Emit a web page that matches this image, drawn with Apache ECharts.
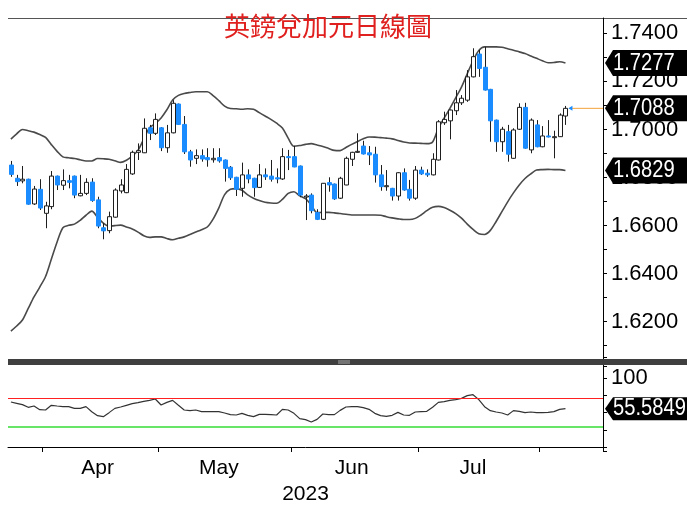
<!DOCTYPE html>
<html><head><meta charset="utf-8">
<script src="https://cdn.jsdelivr.net/npm/echarts@6/dist/echarts.min.js"></script>
<style>html,body{margin:0;padding:0;background:#fff}#c{width:687px;height:507px}</style>
</head><body><div id="c"></div>
<script>
const dates = [
'2023-03-24','2023-03-27','2023-03-28','2023-03-29','2023-03-30','2023-03-31',
'2023-04-03','2023-04-04','2023-04-05','2023-04-06','2023-04-07','2023-04-10','2023-04-11','2023-04-12','2023-04-13','2023-04-14',
'2023-04-17','2023-04-18','2023-04-19','2023-04-20','2023-04-21','2023-04-24','2023-04-25','2023-04-26','2023-04-27','2023-04-28',
'2023-05-01','2023-05-02','2023-05-03','2023-05-04','2023-05-05','2023-05-08','2023-05-09','2023-05-10','2023-05-11','2023-05-12',
'2023-05-15','2023-05-16','2023-05-17','2023-05-18','2023-05-19','2023-05-22','2023-05-23','2023-05-24','2023-05-25','2023-05-26',
'2023-05-29','2023-05-30','2023-05-31',
'2023-06-01','2023-06-02','2023-06-05','2023-06-06','2023-06-07','2023-06-08','2023-06-09','2023-06-12','2023-06-13','2023-06-14',
'2023-06-15','2023-06-16','2023-06-19','2023-06-20','2023-06-21','2023-06-22','2023-06-23','2023-06-26','2023-06-27','2023-06-28',
'2023-06-29','2023-06-30',
'2023-07-03','2023-07-04','2023-07-05','2023-07-06','2023-07-07','2023-07-10','2023-07-11','2023-07-12','2023-07-13','2023-07-14',
'2023-07-17','2023-07-18','2023-07-19','2023-07-20','2023-07-21','2023-07-24','2023-07-25','2023-07-26','2023-07-27','2023-07-28',
'2023-07-31',
'2023-08-01','2023-08-02','2023-08-03','2023-08-04','2023-08-07',
'2023-08-08','2023-08-09','2023-08-10','2023-08-11','2023-08-14','2023-08-15'
];
// [open, close, low, high]
const candles = [
[1.6852,1.6813,1.6803,1.6869],[1.6797,1.6783,1.6765,1.6811],[1.6786,1.6793,1.6776,1.6848],[1.6793,1.6689,1.6687,1.6795],
[1.6690,1.6752,1.6686,1.6765],[1.6751,1.6673,1.6665,1.6793],[1.6651,1.6682,1.6589,1.6699],[1.6679,1.6806,1.6668,1.6827],
[1.6806,1.6769,1.6748,1.6808],[1.6768,1.6787,1.6748,1.6834],[1.6787,1.6780,1.6755,1.6811],[1.6806,1.6727,1.6714,1.6808],
[1.6724,1.6734,1.6722,1.6811],[1.6734,1.6780,1.6727,1.6797],[1.6781,1.6704,1.6699,1.6797],[1.6707,1.6598,1.6589,1.6720],
[1.6591,1.6578,1.6543,1.6610],[1.6579,1.6637,1.6568,1.6658],[1.6635,1.6748,1.6633,1.6755],[1.6744,1.6769,1.6734,1.6793],
[1.6737,1.6834,1.6735,1.6856],[1.6815,1.6905,1.6811,1.6912],[1.6905,1.6912,1.6873,1.6942],[1.6903,1.7005,1.6902,1.7046],
[1.7007,1.6984,1.6956,1.7019],[1.6984,1.7042,1.6977,1.7067],[1.7007,1.6924,1.6910,1.7010],[1.6924,1.6986,1.6903,1.7019],
[1.6986,1.7109,1.6984,1.7122],[1.7106,1.7021,1.7019,1.7108],[1.7021,1.6907,1.6898,1.7056],[1.6907,1.6873,1.6845,1.6915],
[1.6880,1.6891,1.6856,1.6917],[1.6891,1.6877,1.6866,1.6917],[1.6883,1.6874,1.6845,1.6922],[1.6874,1.6880,1.6862,1.6922],
[1.6883,1.6869,1.6862,1.6922],[1.6873,1.6838,1.6783,1.6875],[1.6843,1.6799,1.6790,1.6848],[1.6801,1.6751,1.6723,1.6803],
[1.6755,1.6811,1.6720,1.6862],[1.6811,1.6794,1.6776,1.6834],[1.6797,1.6758,1.6720,1.6799],[1.6759,1.6811,1.6757,1.6856],
[1.6811,1.6803,1.6790,1.6838],[1.6806,1.6793,1.6783,1.6873],[1.6799,1.6794,1.6776,1.6838],[1.6794,1.6887,1.6790,1.6922],
[1.6887,1.6883,1.6831,1.6915],[1.6887,1.6844,1.6843,1.6932],[1.6848,1.6727,1.6718,1.6850],[1.6720,1.6723,1.6623,1.6731],
[1.6727,1.6662,1.6651,1.6734],[1.6654,1.6626,1.6623,1.6668],[1.6626,1.6776,1.6623,1.6777],[1.6779,1.6769,1.6741,1.6801],
[1.6773,1.6711,1.6707,1.6775],[1.6714,1.6797,1.6711,1.6803],[1.6769,1.6880,1.6768,1.6887],[1.6876,1.6905,1.6848,1.6907],
[1.6905,1.6909,1.6903,1.6984],[1.6931,1.6898,1.6896,1.6953],[1.6903,1.6894,1.6852,1.6931],[1.6897,1.6811,1.6779,1.6928],
[1.6811,1.6762,1.6745,1.6852],[1.6762,1.6766,1.6745,1.6831],[1.6755,1.6723,1.6704,1.6757],[1.6723,1.6820,1.6704,1.6822],
[1.6820,1.6748,1.6745,1.6838],[1.6751,1.6714,1.6704,1.6790],[1.6714,1.6831,1.6707,1.6848],[1.6831,1.6815,1.6811,1.6845],
[1.6818,1.6811,1.6803,1.6834],[1.6811,1.6876,1.6809,1.6901],[1.6873,1.7032,1.6871,1.7039],[1.7028,1.7042,1.7019,1.7074],
[1.7036,1.7081,1.6959,1.7083],[1.7078,1.7111,1.7060,1.7164],[1.7111,1.7130,1.7102,1.7143],[1.7122,1.7219,1.7115,1.7247],
[1.7219,1.7303,1.7217,1.7338],[1.7314,1.7254,1.7219,1.7331],[1.7259,1.7164,1.7162,1.7344],[1.7167,1.7036,1.6949,1.7169],
[1.7039,1.6949,1.6907,1.7041],[1.6949,1.7001,1.6907,1.7011],[1.6991,1.6897,1.6866,1.7019],[1.6880,1.6998,1.6878,1.7005],
[1.7001,1.7092,1.6998,1.7109],[1.7092,1.6922,1.6920,1.7111],[1.6915,1.7039,1.6901,1.7046],[1.7019,1.6928,1.6926,1.7039],
[1.6928,1.6973,1.6926,1.7014],[1.6973,1.6969,1.6967,1.7039],[1.6969,1.6970,1.6880,1.6995],[1.6970,1.7060,1.6969,1.7067],
[1.7056,1.7088,1.7019,1.7098]
];
const upperBand = [
1.6960,1.6982,1.7000,1.6995,1.6989,1.6979,1.6967,1.6937,1.6909,1.6886,
1.6882,1.6879,1.6874,1.6869,1.6869,1.6879,1.6878,1.6876,1.6870,1.6863,
1.6872,1.6889,1.6913,1.6960,1.7007,1.7025,1.7048,1.7082,1.7123,1.7142,
1.7150,1.7154,1.7157,1.7157,1.7157,1.7141,1.7120,1.7097,1.7087,1.7086,
1.7084,1.7086,1.7084,1.7070,1.7056,1.7042,1.7026,1.7006,1.6964,1.6930,
1.6933,1.6938,1.6941,1.6935,1.6929,1.6921,1.6913,1.6912,1.6925,1.6938,
1.6950,1.6961,1.6969,1.6968,1.6966,1.6964,1.6961,1.6954,1.6948,1.6944,
1.6943,1.6942,1.6941,1.6948,1.7006,1.7047,1.7088,1.7132,1.7176,1.7232,
1.7286,1.7329,1.7344,1.7344,1.7344,1.7342,1.7336,1.7330,1.7323,1.7316,
1.7306,1.7296,1.7286,1.7278,1.7279,1.7282,1.7277
];
const lowerBand = [
1.6161,1.6182,1.6207,1.6255,1.6303,1.6344,1.6388,1.6460,1.6532,1.6591,
1.6601,1.6606,1.6622,1.6643,1.6660,1.6635,1.6610,1.6597,1.6600,1.6602,
1.6594,1.6586,1.6573,1.6558,1.6551,1.6553,1.6553,1.6546,1.6541,1.6547,
1.6553,1.6563,1.6573,1.6583,1.6594,1.6627,1.6674,1.6729,1.6751,1.6754,
1.6747,1.6728,1.6714,1.6704,1.6697,1.6694,1.6693,1.6709,1.6734,1.6741,
1.6724,1.6712,1.6685,1.6654,1.6655,1.6655,1.6653,1.6650,1.6647,1.6644,
1.6644,1.6644,1.6644,1.6644,1.6643,1.6637,1.6632,1.6628,1.6625,1.6625,
1.6630,1.6644,1.6662,1.6676,1.6680,1.6675,1.6664,1.6650,1.6631,1.6606,
1.6584,1.6566,1.6563,1.6580,1.6617,1.6658,1.6699,1.6736,1.6769,1.6796,
1.6815,1.6831,1.6833,1.6834,1.6833,1.6833,1.6829
];
const rsi = [
65.2,63.3,61.4,57.5,59.4,54.1,53.6,60.4,59.4,58.5,
58.5,56,56,58.5,51.2,45.4,44,49.8,56,58,
60.4,62.8,64.3,66.2,67.6,69.6,60.9,64.7,67.6,60.4,
53.6,52.7,53.6,51.2,51.2,51.2,51.2,49.3,46.9,46.4,
48.8,45.9,44,47.3,47.3,46.9,46.4,54.6,53.6,48.8,
41.1,39.7,36.3,40.1,47.8,46.9,46.9,53.1,58,58.5,
58.5,57,54.6,48.8,45.4,44.5,45.9,50.2,46.4,45.9,
50.7,51.2,51.7,57.5,64.7,65.7,67.6,68.6,70.5,74.4,
75.8,68.6,58.5,52.7,50.7,49.3,46.4,52.7,51.7,49.8,
50.7,49.8,49.8,50.2,51.2,54.6,55.5849
];
const rsiUpper = 70, rsiLower = 30;
const monthLabelDates = ['2023-04-14','2023-05-15','2023-06-15','2023-07-14'];
const monthNames = {'04':'Apr','05':'May','06':'Jun','07':'Jul'};
const yearLabel = '2023';
const titleText = '英鎊兌加元日線圖';

const FONT = "'Liberation Sans','Arial',sans-serif";
const chart = echarts.init(document.getElementById('c'), null, {renderer:'canvas'});

function renderCandle(params, api) {
  const i = api.value(0), o = api.value(1), c = api.value(2), l = api.value(3), h = api.value(4);
  const pO = api.coord([i, o]), pC = api.coord([i, c]), pL = api.coord([i, l]), pH = api.coord([i, h]);
  const w = Math.round(api.size([1, 0])[0] * 0.72);
  const xc = Math.round(pO[0]) + 0.5;
  const up = c >= o;
  const top = Math.min(pO[1], pC[1]), bot = Math.max(pO[1], pC[1]);
  const hgt = Math.max(bot - top, 1);
  return {type:'group', children:[
    {type:'line', shape:{x1:xc, y1:pH[1], x2:xc, y2:pL[1]}, style:{stroke:'#1e1e1e', lineWidth:1}},
    {type:'rect', shape:{x:xc - w/2, y:top, width:w, height:hgt},
     style:{fill: up ? '#ffffff' : '#1a8cff', stroke: up ? '#1e1e1e' : '#1a8cff', lineWidth:1}}
  ]};
}

const option = {
  animation:false,
  backgroundColor:'#fff',
  title:{text:titleText, left:219, top:8, textStyle:{color:'#e0201e', fontSize:26, fontWeight:'normal', fontFamily:"'Noto Sans CJK TC','Noto Sans CJK SC',sans-serif"}, z:10},
  grid:[
    {left:8, right:84, top:18, height:339},
    {left:8, right:84, top:366, height:85}
  ],
  xAxis:[
    {type:'category', gridIndex:0, data:dates, boundaryGap:true, show:false},
    {type:'category', gridIndex:1, data:dates, boundaryGap:true,
     axisLine:{show:true, lineStyle:{color:'#000', width:1}},
     axisTick:{show:true, length:5, lineStyle:{color:'#000'},
       interval:function(idx){ return idx > 0 && idx < candles.length && dates[idx].slice(5,7) !== dates[idx-1].slice(5,7); }},
     axisLabel:{show:true, interval:function(idx, val){ return monthLabelDates.indexOf(val) >= 0; },
       formatter:function(val){ return monthNames[val.slice(5,7)] || ''; },
       color:'#000', fontSize:21, fontFamily:FONT, margin:7},
     name:yearLabel, nameLocation:'middle', nameGap:33,
     nameTextStyle:{color:'#000', fontSize:21, fontFamily:FONT}}
  ],
  yAxis:[
    {type:'value', gridIndex:0, position:'right', min:1.6053, max:1.7464, minInterval:0.01, maxInterval:0.01, splitNumber:14,
     splitLine:{show:false},
     axisLine:{show:true, lineStyle:{color:'#000'}},
     axisTick:{show:true, length:4, lineStyle:{color:'#000'}},
     axisLabel:{color:'#000', fontSize:22, fontFamily:FONT, margin:8,
       formatter:function(v){ const k = Math.round(v*100); return (Math.abs(v*100-k) < 1e-6 && k % 2 === 0) ? v.toFixed(4) : ''; }}},
    {type:'value', gridIndex:1, position:'right', min:-5.8, max:117.4, minInterval:25, maxInterval:25, splitNumber:5,
     splitLine:{show:false},
     axisLine:{show:true, lineStyle:{color:'#000'}},
     axisTick:{show:true, length:4, lineStyle:{color:'#000'}},
     axisLabel:{color:'#000', fontSize:22, fontFamily:FONT, margin:8,
       formatter:function(v){ return Math.abs(v-100) < 1e-6 ? '100' : ''; }}}
  ],
  series:[
    {type:'custom', name:'GBPCAD', xAxisIndex:0, yAxisIndex:0, renderItem:renderCandle,
     encode:{x:0, y:[1,2,3,4]}, data:candles.map(function(c, i){ return [i, c[0], c[1], c[2], c[3]]; }), z:3},
    {type:'line', name:'Upper', xAxisIndex:0, yAxisIndex:0, data:upperBand, symbol:'none', smooth:0.3,
     lineStyle:{color:'#4a4a4a', width:1.6}, z:2},
    {type:'line', name:'Lower', xAxisIndex:0, yAxisIndex:0, data:lowerBand, symbol:'none', smooth:0.3,
     lineStyle:{color:'#4a4a4a', width:1.6}, z:2},
    {type:'line', name:'RSI', xAxisIndex:1, yAxisIndex:1, data:rsi, symbol:'none',
     lineStyle:{color:'#333', width:1.2}, z:3,
     markLine:{silent:true, symbol:'none', label:{show:false},
       data:[{yAxis:rsiUpper, lineStyle:{color:'#ff2020', width:1.2, type:'solid'}},
             {yAxis:rsiLower, lineStyle:{color:'#33dd33', width:1.5, type:'solid'}}]}}
  ]
};
chart.setOption(option);

function tag(yPix, text, h, fs) {
  return [
    {type:'polygon', z:100, zlevel:1, shape:{points:[[605,yPix],[613,yPix-h/2],[690,yPix-h/2],[690,yPix+h/2],[613,yPix+h/2]]}, style:{fill:'#000'}},
    {type:'text', z:101, zlevel:1, x:613, y:yPix, scaleX:0.84, style:{text:text, fill:'#fff', font:fs+'px '+FONT, verticalAlign:'middle', textVerticalAlign:'middle'}}
  ];
}
const last = candles.length - 1;
const lastClose = candles[last][1];
const yUp = chart.convertToPixel({yAxisIndex:0}, upperBand[last]);
const yClose = chart.convertToPixel({yAxisIndex:0}, lastClose);
const yLow = chart.convertToPixel({yAxisIndex:0}, lowerBand[last]);
const yRsi = chart.convertToPixel({yAxisIndex:1}, rsi[last]);
const xLast = chart.convertToPixel({xAxisIndex:0}, last);

chart.setOption({graphic:[
  {type:'line', z:1, shape:{x1:8, y1:18.5, x2:687, y2:18.5}, style:{stroke:'#555', lineWidth:1}},
  {type:'line', z:50, shape:{x1:603.5, y1:18, x2:603.5, y2:452}, style:{stroke:'#000', lineWidth:1}},
  {type:'rect', z:60, shape:{x:8, y:359, width:679, height:6}, style:{fill:'#3f3f3f'}},
  {type:'rect', z:61, shape:{x:338, y:360.5, width:12, height:1}, style:{fill:'#aaa'}},
  {type:'rect', z:61, shape:{x:338, y:362.5, width:12, height:1}, style:{fill:'#aaa'}},
  {type:'line', z:40, shape:{x1:xLast+4, y1:yClose, x2:603, y2:yClose}, style:{stroke:'#f5a33a', lineWidth:1}},
  {type:'polygon', z:41, shape:{points:[[xLast+3,yClose],[xLast+7,yClose-2.5],[xLast+7,yClose+2.5]]}, style:{fill:'#1a8cff'}}
].concat(
  tag(yUp, upperBand[last].toFixed(4), 26, 24),
  tag(yClose, lastClose.toFixed(4), 26, 24),
  tag(yLow, lowerBand[last].toFixed(4), 26, 24),
  tag(yRsi, rsi[last].toFixed(4), 23, 24)
)});
</script>
</body></html>
